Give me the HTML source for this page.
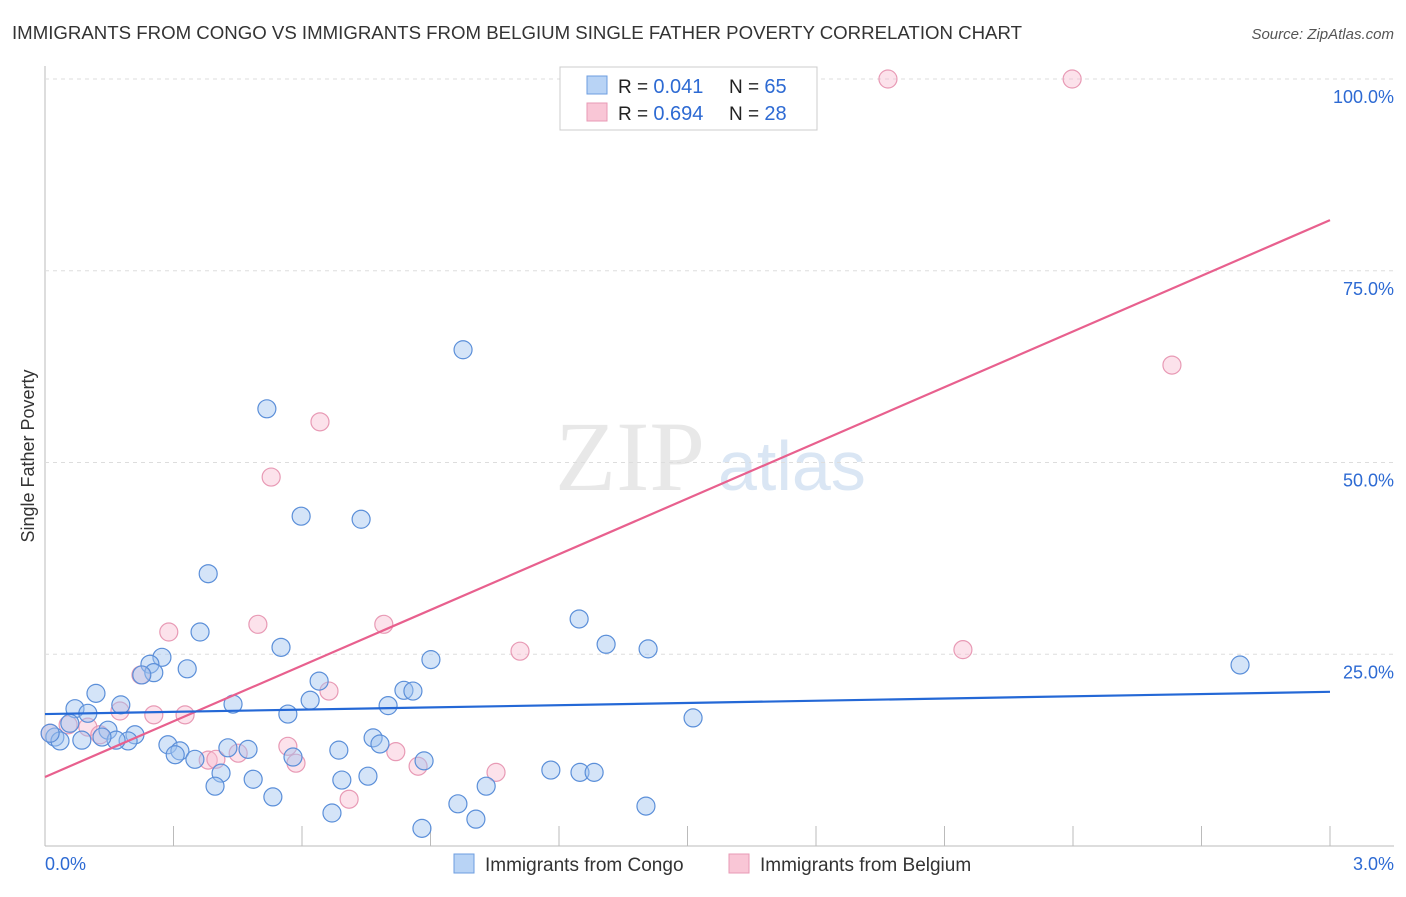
<!DOCTYPE html>
<html><head><meta charset="utf-8"><style>
body{margin:0;background:#fff;font-family:"Liberation Sans",sans-serif;}
svg text{font-family:"Liberation Sans",sans-serif;}
</style></head><body>
<svg id="chart" width="1406" height="892">
<text x="12" y="39" font-size="18" fill="#333" textLength="1010" lengthAdjust="spacingAndGlyphs">IMMIGRANTS FROM CONGO VS IMMIGRANTS FROM BELGIUM SINGLE FATHER POVERTY CORRELATION CHART</text>
<text x="1394" y="39" font-size="15" fill="#555" font-style="italic" text-anchor="end">Source: ZipAtlas.com</text>
<text transform="translate(34,456) rotate(-90)" font-size="18" fill="#333" text-anchor="middle">Single Father Poverty</text>
<text x="555" y="490" font-size="100" fill="#e8e8e8" style="font-family:'Liberation Serif',serif">ZIP</text>
<text x="718" y="490" font-size="70" fill="#dae6f4">atlas</text>
<g id="grid"></g><g id="marks"></g>
<rect x="560" y="67" width="257" height="63" fill="#fff" stroke="#ccc"/>
<rect x="587" y="76" width="20" height="18" fill="#b8d3f5" stroke="#6d9ee0"/>
<rect x="587" y="103" width="20" height="18" fill="#f9c6d6" stroke="#e89ab5"/>
<text x="618" y="93" font-size="19" fill="#222">R = <tspan fill="#2d6ad3" font-size="20">0.041</tspan></text>
<text x="729" y="93" font-size="19" fill="#222">N = <tspan fill="#2d6ad3" font-size="20">65</tspan></text>
<text x="618" y="120" font-size="19" fill="#222">R = <tspan fill="#2d6ad3" font-size="20">0.694</tspan></text>
<text x="729" y="120" font-size="19" fill="#222">N = <tspan fill="#2d6ad3" font-size="20">28</tspan></text>
<rect x="454" y="854" width="20" height="19" fill="#b8d3f5" stroke="#6d9ee0"/>
<text x="485" y="871" font-size="19" fill="#333">Immigrants from Congo</text>
<rect x="729" y="854" width="20" height="19" fill="#f9c6d6" stroke="#e89ab5"/>
<text x="760" y="871" font-size="19" fill="#333">Immigrants from Belgium</text>
<text x="45" y="870" font-size="18" fill="#2d6ad3">0.0%</text>
<text x="1394" y="870" font-size="18" fill="#2d6ad3" text-anchor="end">3.0%</text>
</svg>
<script>
const congoX=[0.518,0.976,0.598,0.738,0.381,1.247,1.310,1.408,0.362,0.551,0.901,0.273,0.245,0.332,0.254,0.226,2.790,0.640,0.119,0.838,0.859,0.619,0.439,0.177,0.801,0.070,0.100,0.567,1.513,0.058,0.147,0.210,0.766,0.782,0.194,0.166,0.086,0.133,0.023,0.035,0.012,0.287,0.315,0.304,0.427,0.474,0.579,0.686,0.350,0.885,1.181,1.249,1.282,0.411,0.486,0.693,0.754,0.397,1.030,0.532,0.964,1.403,0.670,1.006,0.880];
const congoY=[57.0,64.7,43.0,42.6,35.5,29.6,26.3,25.7,27.9,25.9,24.3,24.6,23.7,23.1,22.6,22.3,23.6,21.5,19.9,20.3,20.2,19.0,18.5,18.4,18.3,17.9,17.3,17.2,16.7,16.0,15.1,14.5,14.1,13.3,13.7,13.8,13.8,14.2,14.2,13.7,14.7,13.2,12.4,11.9,12.8,12.6,11.6,12.5,11.3,11.1,9.9,9.6,9.6,9.5,8.7,8.6,9.1,7.8,7.8,6.4,5.5,5.2,4.3,3.5,2.3];
const belgiumX=[1.968,2.398,2.631,0.642,0.528,0.289,0.497,0.791,1.109,2.143,0.224,0.663,0.175,0.254,0.327,0.054,0.100,0.128,0.012,0.567,0.451,0.381,0.399,0.819,0.586,0.871,1.053,0.710];
const belgiumY=[100,100,62.7,55.3,48.1,27.9,28.9,28.9,25.4,25.6,22.3,20.2,17.6,17.1,17.1,15.8,15.5,14.5,14.7,13.0,12.1,11.2,11.3,12.3,10.8,10.4,9.6,6.1];
const congoTrend=[17.2,20.1];
const belgiumTrend=[9.0,81.6];
const yTicks=[25,50,75,100];
const yTickLabels=["25.0%","50.0%","75.0%","100.0%"];
const xTicks=[0,0.3,0.6,0.9,1.2,1.5,1.8,2.1,2.4,2.7,3.0];
const NS="http://www.w3.org/2000/svg";
const X=v=>45+v/3*1285, Y=v=>846-v/100*767;
function mk(tag,attrs,parent){const e=document.createElementNS(NS,tag);for(const k in attrs)e.setAttribute(k,attrs[k]);parent.appendChild(e);return e;}
const grid=document.getElementById('grid'), marks=document.getElementById('marks');
let e=mk('line',{x1:45,y1:66,x2:45,y2:846,stroke:'#bbb'},grid);


e=mk('line',{x1:45,y1:846,x2:1394,y2:846,stroke:'#bbb'},grid);


yTicks.forEach((t,i)=>{
 let g=mk('line',{x1:45,y1:Y(t),x2:1394,y2:Y(t),stroke:'#ddd','stroke-dasharray':'4,4'},grid);
 
 
 let l=mk('text',{x:1394,y:Y(t)+24,'font-size':18,fill:'#2d6ad3','text-anchor':'end'},grid);l.textContent=yTickLabels[i];
 
 
});
xTicks.forEach(t=>{
 let g=mk('line',{x1:X(t),y1:826,x2:X(t),y2:846,stroke:'#bbb'},grid);
 
 
});
function pts(xs,ys,fill,stroke,name){xs.forEach((x,i)=>{
 let c=mk('circle',{cx:X(x),cy:Y(ys[i]),r:9,fill:fill,stroke:stroke,'stroke-width':1.2},marks);
 
 
});}
pts(belgiumX,belgiumY,'rgba(248,190,210,0.45)','#e89ab5','belgium-point');
pts(congoX,congoY,'rgba(160,195,240,0.45)','#5b8fd9','congo-point');
e=mk('line',{x1:X(0),y1:Y(belgiumTrend[0]),x2:X(3),y2:Y(belgiumTrend[1]),stroke:'#e8608e','stroke-width':2.2},marks);


e=mk('line',{x1:X(0),y1:Y(congoTrend[0]),x2:X(3),y2:Y(congoTrend[1]),stroke:'#2468d6','stroke-width':2.2},marks);


</script>
</body></html>
